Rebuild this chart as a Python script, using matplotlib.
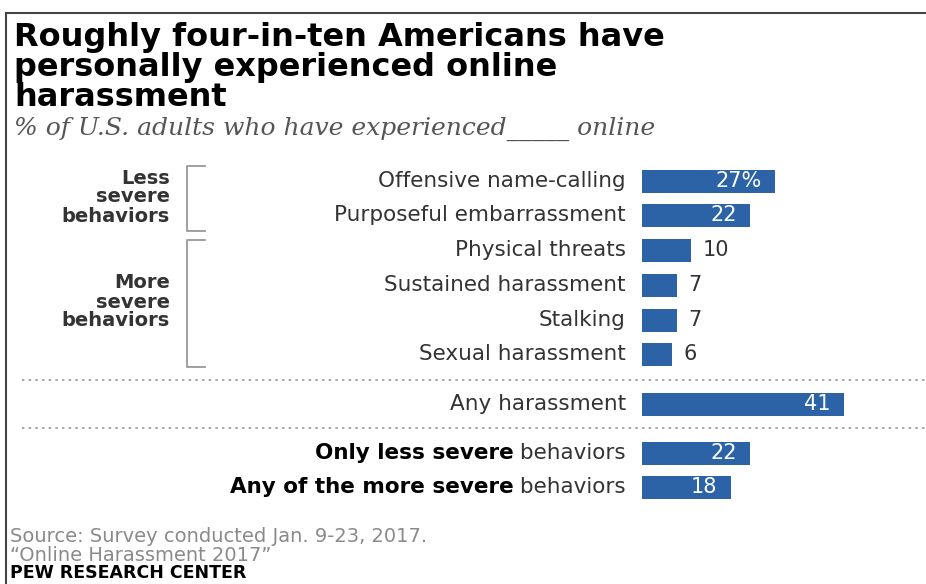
import matplotlib
matplotlib.use("Agg")
import matplotlib.pyplot as plt

# data
categories = ["Offensive name-calling", "Purposeful embarrassment", "Physical threats",
              "Sustained harassment", "Stalking", "Sexual harassment",
              "Any harassment", "Only less severe behaviors", "Any of the more severe behaviors"]
values = [27, 22, 10, 7, 7, 6, 41, 22, 18]
value_labels = ["27%", "22", "10", "7", "7", "6", "41", "22", "18"]
bold_parts = ["", "", "", "", "", "", "", "Only less severe", "Any of the more severe"]
groups = ["Less\nsevere\nbehaviors", "More\nsevere\nbehaviors"]

# layout, in pixels of the 926x584 picture
W, H = 926, 584
row_y = [181, 215, 250, 285, 320, 354, 404, 453, 487]
bar_h = 23
bar_x0 = 642
px_per_pct = 4.93
label_x = 626
blue = "#2b63a6"
text_col = "#333333"

fig = plt.figure(figsize=(W / 100, H / 100), dpi=100)
fig.patch.set_facecolor("white")

bg = fig.add_axes([0, 0, 1, 1])
bg.set_xlim(0, W)
bg.set_ylim(H, 0)
bg.axis("off")

ax = fig.add_axes([bar_x0 / W, 0, (W - bar_x0) / W, 1])
ax.set_xlim(0, (W - bar_x0) / px_per_pct)
ax.set_ylim(H, 0)
ax.axis("off")

# frame lines top and left
bg.plot([6, W], [13, 13], color="#444444", lw=1.5)
bg.plot([6, 6], [13, H], color="#444444", lw=1.5)

# title and subtitle
bg.text(14, 22, "Roughly four-in-ten Americans have\npersonally experienced online\nharassment",
        fontsize=23, fontweight="bold", color="black", va="top", ha="left",
        linespacing=0.95)
bg.text(14, 129, "% of U.S. adults who have experienced_____ online",
        fontsize=18, style="italic", color="#555555", va="center", ha="left",
        family="DejaVu Serif")

# bars
ax.barh(row_y, values, height=bar_h, color=blue)
for y, v, lab in zip(row_y, values, value_labels):
    if v >= 15:
        ax.text(v - 2.8, y, lab, color="white", fontsize=15, ha="right", va="center")
    else:
        ax.text(v + 2.4, y, lab, color=text_col, fontsize=15, ha="left", va="center")

# category labels, the bold lead-in placed left of the plain part
fig.canvas.draw()
renderer = fig.canvas.get_renderer()
for y, cat, bp in zip(row_y, categories, bold_parts):
    rest = cat[len(bp):]
    t = bg.text(label_x, y, rest, fontsize=15.5, color=text_col, ha="right", va="center")
    if bp:
        x_left = t.get_window_extent(renderer).x0
        x_data = bg.transData.inverted().transform((x_left, 0))[0]
        bg.text(x_data, y, bp, fontsize=15.5, color="black", fontweight="bold",
                ha="right", va="center")

# group labels and brackets
bg.text(170, 197, groups[0], fontsize=14, fontweight="bold", color=text_col,
        ha="right", va="center", linespacing=1.0)
bg.text(170, 302, groups[1], fontsize=14, fontweight="bold", color=text_col,
        ha="right", va="center", linespacing=1.0)
for top, bot in [(166, 231), (240, 367)]:
    bg.plot([205, 187, 187, 205], [top, top, bot, bot], color="#999999", lw=1.3)

# dotted separators
for y in [380, 428]:
    bg.plot([22, W], [y, y], color="#999999", lw=1.2, ls=(0, (1.5, 2.5)))

# source
bg.text(10, 546, "Source: Survey conducted Jan. 9-23, 2017.\n\u201cOnline Harassment 2017\u201d",
        fontsize=14, color="#8a8a8a", ha="left", va="center", linespacing=1.0)
bg.text(10, 582, "PEW RESEARCH CENTER", fontsize=12.5, fontweight="bold", color="black",
        ha="left", va="bottom")

fig.savefig("out.png", dpi=100)
